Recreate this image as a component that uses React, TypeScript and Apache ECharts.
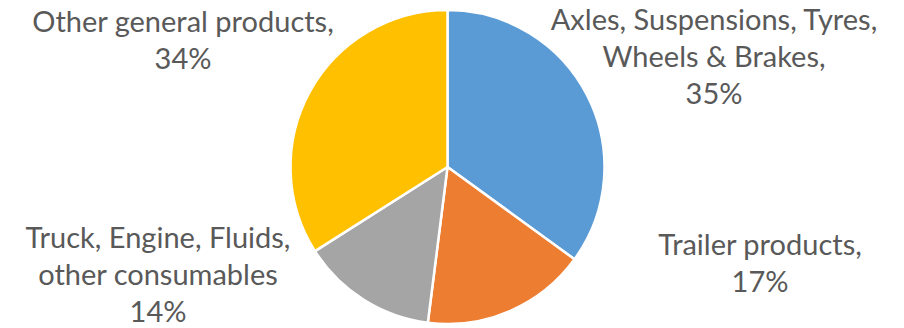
import React, { useEffect, useRef } from "react";
import * as echarts from "echarts";

const categories = [
  "Axles, Suspensions, Tyres,\nWheels & Brakes,",
  "Trailer products,",
  "Truck, Engine, Fluids,\nother consumables",
  "Other general products,",
];
const values = [35, 17, 14, 34];
const colors = ["#5B9BD5", "#ED7D31", "#A5A5A5", "#FFC000"];
const labelPositions = [
  [714, 55],
  [760, 262],
  [158, 273],
  [183, 39],
];

export default function App() {
  const ref = useRef<HTMLDivElement>(null);
  useEffect(() => {
    if (!ref.current) return;
    const chart = echarts.init(ref.current, undefined, { renderer: "svg" });
    chart.setOption({
      animation: false,
      backgroundColor: "#ffffff",
      series: [
        {
          type: "pie",
          center: [447.5, 167],
          radius: 157,
          startAngle: 90,
          clockwise: true,
          data: categories.map((name, i) => ({
            name,
            value: values[i],
            itemStyle: { color: colors[i] },
          })),
          itemStyle: { borderColor: "#ffffff", borderWidth: 2.5 },
          label: {
            show: true,
            formatter: (p: any) => `${p.name}\n${p.value}%`,
            fontFamily: "Lato",
            fontSize: 29,
            lineHeight: 37,
            color: "#595959",
            align: "center",
            overflow: "none",
            width: 400,
          },
          labelLine: { show: false },
          labelLayout: (p: any) => ({
            x: labelPositions[p.dataIndex][0],
            y: labelPositions[p.dataIndex][1],
            align: "center",
            verticalAlign: "middle",
          }),
          emphasis: { disabled: true },
        },
      ],
    });
    return () => chart.dispose();
  }, []);
  return (
    <div
      ref={ref}
      style={{ position: "fixed", left: 0, top: 0, width: 904, height: 328 }}
    />
  );
}
